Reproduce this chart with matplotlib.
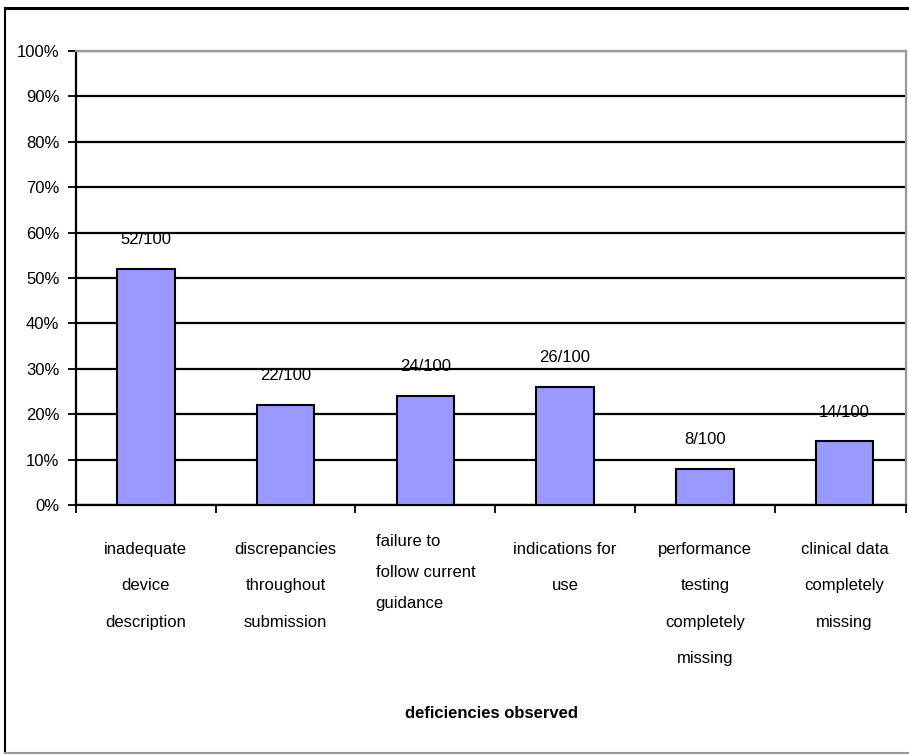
import matplotlib.pyplot as plt
from matplotlib.lines import Line2D
import numpy as np

# === Data ===
categories = [
    "inadequate\ndevice\ndescription",
    "discrepancies\nthroughout\nsubmission",
    "failure to\nfollow current\nguidance",
    "indications for\nuse",
    "performance\ntesting\ncompletely\nmissing",
    "clinical data\ncompletely\nmissing",
]
counts = [52, 22, 24, 26, 8, 14]
total = 100
y_ticks = [0, 10, 20, 30, 40, 50, 60, 70, 80, 90, 100]

plt.rcParams['font.family'] = ['Liberation Sans', 'DejaVu Sans']

fig = plt.figure(figsize=(9.09, 7.55), dpi=100)
ax = fig.add_axes([0.0836, 0.3311, 0.9132, 0.6013])

pct = [c / total * 100 for c in counts]
x = np.arange(len(categories))
ax.bar(x, pct, width=0.41, color='#9999FF', edgecolor='black', linewidth=1.5, zorder=3)

# labels above bars
for xi, c, p in zip(x, counts, pct):
    ax.text(xi, p + 4.8, f"{c}/{total}", ha='center', va='bottom', fontsize=12)

# last category is cut a bit short on the right, as in the original
ax.set_xlim(-0.5, len(categories) - 0.56)
ax.set_ylim(0, 100)
ax.set_yticks(y_ticks)
ax.set_yticklabels([f"{t}%" for t in y_ticks], fontsize=12)
ax.yaxis.grid(True, color='black', linewidth=1.6, zorder=0)
ax.set_axisbelow(True)

# category ticks between bars, labels in the middle
ax.set_xticks(list(np.arange(len(categories)) - 0.5) + [len(categories) - 0.56])
ax.set_xticklabels([])
ax.tick_params(axis='x', direction='out', length=6, width=1.3, color='black')
ax.tick_params(axis='y', direction='out', length=6, width=1.3, color='black', pad=6)

for xi, lab in zip(x, categories):
    if lab.startswith("failure"):
        ax.text(xi, -6.4, lab, ha='center', va='top', fontsize=12,
                multialignment='left', linespacing=2.32, clip_on=False)
    else:
        ax.text(xi, -8.1, lab, ha='center', va='top', fontsize=12,
                multialignment='center', linespacing=2.78, clip_on=False)

ax.text(0.5, -0.46, "deficiencies observed", transform=ax.transAxes,
        ha='center', va='center', fontsize=12, weight='bold')

# plot area: gray border top/right, black axes left/bottom
for side in ['top', 'right']:
    ax.spines[side].set_color('#999999')
    ax.spines[side].set_linewidth(1.6)
ax.spines['left'].set_linewidth(1.6)
ax.spines['bottom'].set_linewidth(1.6)

# outer frame: black top/left, gray bottom
fig.add_artist(Line2D([5 / 909, 1.0], [1 - 8 / 755, 1 - 8 / 755], color='black', linewidth=2.2))
fig.add_artist(Line2D([5 / 909, 5 / 909], [1 - 8 / 755, 2 / 755], color='black', linewidth=1.5))
fig.add_artist(Line2D([5 / 909, 1.0], [2 / 755, 2 / 755], color='#999999', linewidth=1.5))

fig.savefig("out.png", dpi=100)
